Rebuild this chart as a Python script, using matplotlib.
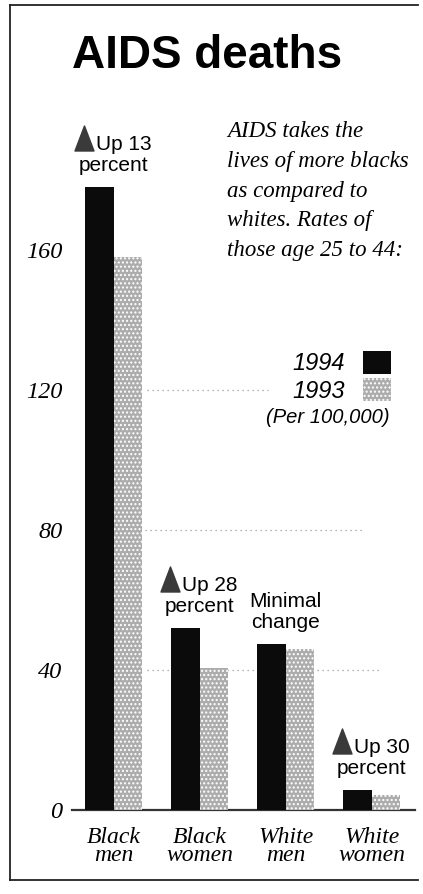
import matplotlib.pyplot as plt
import matplotlib.transforms as mtransforms
from matplotlib.lines import Line2D
from matplotlib.path import Path
import numpy as np

# data (deaths per 100,000, age 25 to 44)
groups = ['Black\nmen', 'Black\nwomen', 'White\nmen', 'White\nwomen']
rate_1994 = [178, 52, 47.5, 5.7]
rate_1993 = [158, 40.6, 46, 4.4]
note_top = ['Up 13', 'Up 28', 'Minimal', 'Up 30']
note_bottom = ['percent', 'percent', 'change', 'percent']
note_up = [True, True, False, True]
yticks = [0, 40, 80, 120, 160]

W, H = 423, 894
fig = plt.figure(figsize=(W / 100, H / 100), dpi=100)
fig.patch.set_facecolor('white')

def fx(px):
    return px / W

def fy(py):
    return 1 - py / H

serif_it = dict(family='Liberation Serif', style='italic')
sans = dict(family=['Liberation Sans', 'DejaVu Sans'])

# axes placed in pixels: baseline at y=810, 3.5 px per unit
ax = fig.add_axes([fx(72), 84 / H, 343 / W, 700 / H])
ax.set_ylim(0, 200)
ax.set_xlim(-0.483, 3.5)

x = np.arange(len(groups))
w = 0.331
b94 = ax.bar(x - w / 2, rate_1994, w, color='#0b0b0b', label='1994', zorder=3)
b93 = ax.bar(x + w / 2, rate_1993, w, facecolor='#acacac', edgecolor='white',
             hatch='....', linewidth=0, label='1993', zorder=3)

# dotted grid pieces
grid_runs = [(40, 0.39, 3.09), (80, 0.36, 2.9), (120, 0.39, 1.79)]
for yv, x0, x1 in grid_runs:
    ax.hlines(yv, x0, x1, colors='#9a9a9a', linestyles=(0, (1, 3)), lw=0.9, zorder=1)

for s in ['top', 'right', 'left']:
    ax.spines[s].set_visible(False)
ax.spines['bottom'].set_color('#333333')
ax.spines['bottom'].set_linewidth(1.6)

ax.set_yticks(yticks)
ax.set_yticklabels([str(v) for v in yticks], fontsize=17.5, **serif_it)
ax.tick_params(axis='y', length=0, pad=7)
ax.set_xticks(x)
ax.set_xticklabels(groups, fontsize=17, linespacing=0.85, **serif_it)
ax.tick_params(axis='x', length=0, pad=12)

# annotations over the 1994 bars
tri = Path([(-0.38, -0.5), (0.38, -0.5), (0.0, 0.5), (-0.38, -0.5)],
           [Path.MOVETO, Path.LINETO, Path.LINETO, Path.CLOSEPOLY])
for xi, top, t1, t2, up in zip(x, rate_1994, note_top, note_bottom, note_up):
    ax.annotate(t2, xy=(xi, top), xytext=(0, 16 * 0.72), textcoords='offset points',
                ha='center', va='baseline', fontsize=15, **sans)
    if up:
        ax.annotate(t1, xy=(xi, top), xytext=(-18 * 0.72, 37 * 0.72),
                    textcoords='offset points', ha='left', va='baseline',
                    fontsize=15, **sans)
        tr = mtransforms.offset_copy(ax.transData, fig=fig, x=-30, y=49.5, units='dots')
        ax.plot([xi], [top], marker=tri, markersize=18, color='#3a3a3a',
                transform=tr, clip_on=False, zorder=4)
    else:
        ax.annotate(t1, xy=(xi, top), xytext=(0, 37 * 0.72), textcoords='offset points',
                    ha='center', va='baseline', fontsize=15, **sans)

# legend
leg = ax.legend(handles=[b94, b93], loc='upper right', frameon=False,
                markerfirst=False, bbox_to_anchor=(fx(391), fy(351)),
                bbox_transform=fig.transFigure, borderpad=0, borderaxespad=0,
                handlelength=1.2, handleheight=1.1, handletextpad=0.75,
                labelspacing=0.12,
                prop=dict(family='Liberation Sans', style='italic', size=17))
fig.text(fx(390), fy(418), '(Per 100,000)', ha='right', va='center',
         fontsize=14.5, family='Liberation Sans', style='italic')

# title and description
fig.text(fx(72), fy(68), 'AIDS deaths', ha='left', va='baseline',
         fontsize=33, fontweight='bold', family='Liberation Sans')
fig.text(fx(227), fy(121), 'AIDS takes the\nlives of more blacks\nas compared to\n'
         'whites. Rates of\nthose age 25 to 44:', ha='left', va='top',
         fontsize=16.5, linespacing=1.55, **serif_it)

# frame
for xs, ys in [((fx(10), fx(10)), (fy(5), fy(880))),
               ((fx(10), fx(418)), (fy(5), fy(5))),
               ((fx(10), fx(418)), (fy(880), fy(880)))]:
    fig.add_artist(Line2D(xs, ys, color='#222222', lw=1.3))

fig.savefig('out.png', dpi=100, facecolor='white')
